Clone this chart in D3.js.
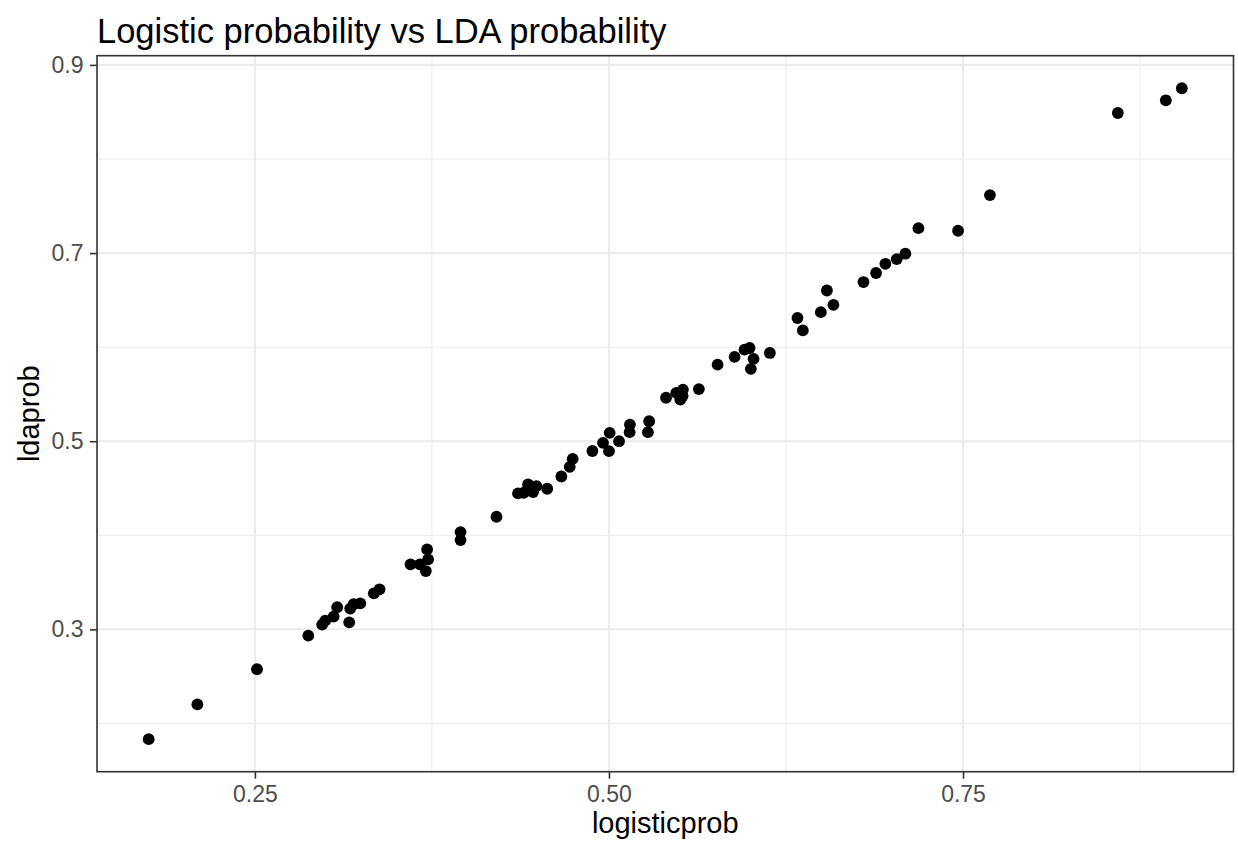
<!DOCTYPE html>
<html>
<head>
<meta charset="utf-8">
<script src="https://cdn.jsdelivr.net/npm/d3@7"></script>
<style>
  html, body { margin: 0; padding: 0; background: #fff; }
  svg { display: block; font-family: "Liberation Sans", Arial, Helvetica, sans-serif; }
</style>
</head>
<body>
<svg id="chart" width="1238" height="843"></svg>
<script>
const logisticprob = [0.1750,0.2094,0.2515,0.2877,0.2975,0.2997,0.3056,0.3081,0.3166,0.3173,
  0.3197,0.3244,0.3340,0.3380,0.3599,0.3665,0.3707,0.3716,0.3723,0.3952,
  0.3952,0.4206,0.4358,0.4398,0.4429,0.4471,0.4464,0.4488,0.4564,0.4664,
  0.4723,0.4744,0.4883,0.4958,0.5005,0.5000,0.5071,0.5148,0.5146,0.5284,
  0.5275,0.5403,0.5475,0.5522,0.5504,0.5520,0.5635,0.5767,0.5887,0.5957,
  0.5993,0.6021,0.6002,0.6136,0.6331,0.6369,0.6496,0.6585,0.6539,0.6797,
  0.6886,0.6952,0.7032,0.7093,0.7185,0.7465,0.7690,0.8593,0.8932,0.9045];
const ldaprob = [0.1833,0.2202,0.2576,0.2934,0.3051,0.3093,0.3136,0.3235,0.3075,0.3221,
  0.3267,0.3277,0.3383,0.3426,0.3691,0.3691,0.3620,0.3850,0.3744,0.4034,
  0.3949,0.4197,0.4445,0.4452,0.4540,0.4505,0.4459,0.4522,0.4495,0.4625,
  0.4728,0.4813,0.4896,0.4983,0.5089,0.4894,0.5000,0.5177,0.5096,0.5212,
  0.5096,0.5462,0.5514,0.5549,0.5443,0.5480,0.5554,0.5814,0.5896,0.5973,
  0.5991,0.5875,0.5769,0.5938,0.6310,0.6178,0.6372,0.6449,0.6602,0.6692,
  0.6788,0.6886,0.6936,0.6993,0.7265,0.7237,0.7616,0.8489,0.8624,0.8752];
const xTicks = [0.25, 0.50, 0.75];
const xTickLabels = ["0.25", "0.50", "0.75"];
const xMinor = [0.375, 0.625, 0.875];
const yTicks = [0.3, 0.5, 0.7, 0.9];
const yTickLabels = ["0.3", "0.5", "0.7", "0.9"];
const yMinor = [0.2, 0.4, 0.6, 0.8];
const titleText = "Logistic probability vs LDA probability";
const xTitle = "logisticprob";
const yTitle = "ldaprob";

(function () {
const data = logisticprob.map((d, i) => ({x: d, y: ldaprob[i]}));

const svg = d3.select("#chart");
const pL = 97, pR = 1233.5, pT = 55.7, pB = 771.7;

function expand(ext) { const r = ext[1] - ext[0]; return [ext[0] - 0.05 * r, ext[1] + 0.05 * r]; }
const x = d3.scaleLinear().domain(expand(d3.extent(logisticprob))).range([pL, pR]);
const y = d3.scaleLinear().domain(expand(d3.extent(ldaprob))).range([pB, pT]);

const grid = svg.append("g");
grid.selectAll("line.xmin").data(xMinor).join("line")
  .attr("x1", d => x(d)).attr("x2", d => x(d)).attr("y1", pT).attr("y2", pB)
  .attr("stroke", "#ebebeb").attr("stroke-width", 1);
grid.selectAll("line.ymin").data(yMinor).join("line")
  .attr("y1", d => y(d)).attr("y2", d => y(d)).attr("x1", pL).attr("x2", pR)
  .attr("stroke", "#ebebeb").attr("stroke-width", 1);
grid.selectAll("line.xmaj").data(xTicks).join("line")
  .attr("x1", d => x(d)).attr("x2", d => x(d)).attr("y1", pT).attr("y2", pB)
  .attr("stroke", "#ebebeb").attr("stroke-width", 2);
grid.selectAll("line.ymaj").data(yTicks).join("line")
  .attr("y1", d => y(d)).attr("y2", d => y(d)).attr("x1", pL).attr("x2", pR)
  .attr("stroke", "#ebebeb").attr("stroke-width", 2);

svg.append("g").selectAll("circle").data(data).join("circle")
  .attr("cx", d => x(d.x)).attr("cy", d => y(d.y)).attr("r", 5.9).attr("fill", "#000");

svg.append("rect").attr("x", pL).attr("y", pT).attr("width", pR - pL).attr("height", pB - pT)
  .attr("fill", "none").attr("stroke", "#333333").attr("stroke-width", 1.6);

const xAxis = svg.append("g").attr("transform", `translate(0,${pB})`)
  .call(d3.axisBottom(x).tickValues(xTicks).tickFormat((d, i) => xTickLabels[i]).tickSize(7).tickPadding(6.5));
const yAxis = svg.append("g").attr("transform", `translate(${pL},0)`)
  .call(d3.axisLeft(y).tickValues(yTicks).tickFormat((d, i) => yTickLabels[i]).tickSize(7).tickPadding(6.5));
[xAxis, yAxis].forEach(a => {
  a.select(".domain").remove();
  a.selectAll(".tick line").attr("stroke", "#333333").attr("stroke-width", 1.6);
  a.selectAll(".tick text").attr("fill", "#4d4d4d").style("font-size", "23px")
    .style("font-family", '"Liberation Sans", Arial, sans-serif');
});

svg.append("text").attr("x", (pL + pR) / 2).attr("y", 833).attr("text-anchor", "middle")
  .style("font-size", "29px").attr("fill", "#000").text(xTitle);
svg.append("text").attr("transform", `translate(39,${(pT + pB) / 2}) rotate(-90)`).attr("text-anchor", "middle")
  .style("font-size", "29px").attr("fill", "#000").text(yTitle);
svg.append("text").attr("x", pL).attr("y", 43).style("font-size", "34.5px").attr("fill", "#000").text(titleText);
})();
</script>
</body>
</html>
